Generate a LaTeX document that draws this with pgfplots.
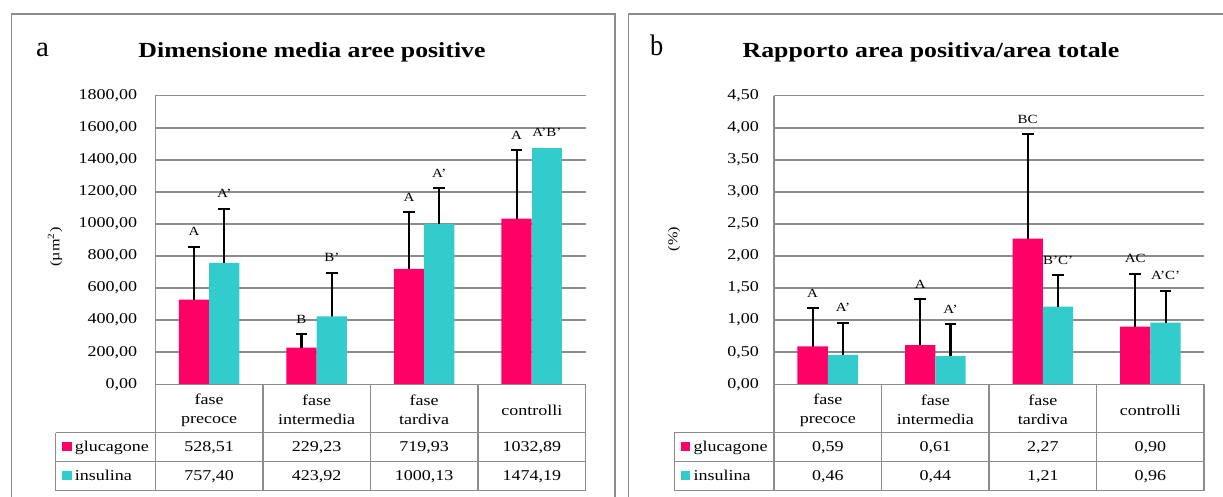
\documentclass[border=0pt]{standalone}
\usepackage{fontspec}
\setmainfont{Liberation Serif}[FakeStretch=1.2]
\usepackage{pgfplots}
\pgfplotsset{compat=1.18}
\definecolor{gluc}{HTML}{FF0066}
\definecolor{insu}{HTML}{33CCCC}
\definecolor{lgray}{HTML}{8C8C8C}
\newcommand\tfont{\fontsize{15}{18.7}\selectfont}
\newcommand\lfont{\fontsize{12.5}{14}\selectfont}
\pgfplotsset{
  panel/.style={
    scale only axis, width=430.2pt, height=288.6pt, anchor=south west,
    xmin=-0.5, xmax=3.5, ymin=0,
    xtick=\empty,
    ymajorgrids, grid style={lgray, line width=1.5pt},
    major tick length=0pt,
    axis line style={draw=none},
    yticklabel style={font=\tfont, inner sep=0pt, anchor=east,
      /pgf/number format/fixed, /pgf/number format/fixed zerofill,
      /pgf/number format/precision=2, /pgf/number format/use comma,
      /pgf/number format/1000 sep={}, /pgf/number format/assume math mode=true},
    clip=false,
    bar width=30.3pt,
  },
  % categories at 0,1,2,3; glucagone drawn at i-0.1409, insulina at i+0.1409
  glu/.style={ybar, bar shift=0pt, fill=gluc, draw=none},
  ins/.style={ybar, bar shift=0pt, fill=insu, draw=none},
  eb/.style={error bars/.cd, y dir=plus, y explicit,
     error bar style={draw=black, solid, line width=2.1pt},
     error mark options={rotate=90, draw=black, solid, line width=2pt, mark size=5.9pt}},
  % stems of the error bars (drawn first, hidden inside the bars) with the letters on top
  stem/.style={ycomb, black, line width=2.1pt, mark=none, nodes near coords, point meta=explicit symbolic,
     nodes near coords style={font=\lfont, text=black, anchor=south, yshift=6.5pt}},
  lab/.style={ybar, bar shift=0pt, draw=none, fill=none, nodes near coords, point meta=explicit symbolic,
     nodes near coords style={font=\lfont, text=black, yshift=6.5pt}},
}
% table: #1 x offset, #2-#5 glucagone, #6-#9 insulina
\newcommand\drawtable[9]{%
 \begin{scope}[xshift=#1]
  \draw[lgray, line width=1.5pt] (155.3pt,112.7pt) -- (155.3pt,401.3pt);
  \draw[lgray, line width=1.5pt] (155.3pt,112.7pt) -- (585.5pt,112.7pt);
  \draw[lgray, line width=1.5pt] (55.7pt,64.3pt) -- (585.5pt,64.3pt);
  \draw[lgray, line width=1.5pt] (55.7pt,35.3pt) -- (585.5pt,35.3pt);
  \draw[lgray, line width=1.5pt] (55.7pt,6.3pt) -- (585.5pt,6.3pt);
  \draw[lgray, line width=1.5pt] (55.7pt,6.3pt) -- (55.7pt,64.3pt);
  \foreach \xx in {155.3,262.9,370.4,478,585.5}{
    \draw[lgray, line width=1.5pt] (\xx pt,6.3pt) -- (\xx pt,112.7pt);}
  \node[font=\tfont, align=center] at (209.1pt,87pt) {fase\\precoce};
  \node[font=\tfont, align=center] at (316.65pt,87pt) {fase\\intermedia};
  \node[font=\tfont, align=center] at (424.2pt,87pt) {fase\\tardiva};
  \node[font=\tfont, align=center] at (531.75pt,87pt) {controlli};
  \fill[gluc] (62pt,45.5pt) rectangle (71.7pt,55.2pt);
  \fill[insu] (62pt,16.6pt) rectangle (71.7pt,26.3pt);
  \node[font=\tfont, anchor=base west, inner sep=0pt] at (74.7pt,45pt) {glucagone};
  \node[font=\tfont, anchor=base west, inner sep=0pt] at (74.7pt,16pt) {insulina};
  \node[font=\tfont, anchor=base, inner sep=0pt] at (209.1pt,45pt) {#2};
  \node[font=\tfont, anchor=base, inner sep=0pt] at (316.65pt,45pt) {#3};
  \node[font=\tfont, anchor=base, inner sep=0pt] at (424.2pt,45pt) {#4};
  \node[font=\tfont, anchor=base, inner sep=0pt] at (531.75pt,45pt) {#5};
  \node[font=\tfont, anchor=base, inner sep=0pt] at (209.1pt,16pt) {#6};
  \node[font=\tfont, anchor=base, inner sep=0pt] at (316.65pt,16pt) {#7};
  \node[font=\tfont, anchor=base, inner sep=0pt] at (424.2pt,16pt) {#8};
  \node[font=\tfont, anchor=base, inner sep=0pt] at (531.75pt,16pt) {#9};
 \end{scope}}
\begin{document}
\begin{tikzpicture}
\clip (0,0) rectangle (1223pt,497pt);
\fill[white] (0,0) rectangle (1223pt,497pt);
% panel frames
\draw[lgray, line width=1.3pt] (11.7pt,-10pt) rectangle (615pt,483pt);
\draw[lgray, line width=1.3pt] (628.3pt,-10pt) rectangle (1240pt,483pt);
% titles
\node[anchor=base west, inner sep=0pt] at (36pt,440.3pt) {\scalebox{1.1}[1.3]{\fontsize{22}{22}\selectfont a}};
\node[anchor=base, inner sep=0pt, font=\bfseries\fontsize{21.5}{24}\selectfont] at (312pt,439.7pt) {Dimensione media aree positive};
\node[anchor=base west, inner sep=0pt] at (650pt,441pt) {\scalebox{1.0}[1.35]{\fontsize{22}{22}\selectfont b}};
\node[anchor=base, inner sep=0pt, font=\bfseries\fontsize{21.5}{24}\selectfont] at (931pt,439.7pt) {Rapporto area positiva/area totale};
% y labels
\node[rotate=90, font=\fontsize{13.5}{15}\selectfont] at (55pt,250pt) {(µm\textsuperscript{2})};
\node[rotate=90, font=\fontsize{13.5}{15}\selectfont] at (674pt,258pt) {(\%)};

% ---------- panel a ----------
\begin{axis}[panel, at={(155.3pt,112.7pt)}, ymax=1800,
  ytick={0,200,...,1800}, yticklabel style={xshift=-18pt}]
\addplot[stem] coordinates {(-0.1409,858)[A] (0.8591,314)[B] (1.8591,1073)[A] (2.8591,1460)[A]
  (0.1409,1095)[A'] (1.1409,696)[B'] (2.1409,1222)[A']};
\addplot[glu, eb] coordinates {(-0.1409,528.51) += (0,329.5) (0.8591,229.23) += (0,84.8) (1.8591,719.93) += (0,353.0) (2.8591,1032.89) += (0,427.0)};
\addplot[ins, eb] coordinates {(0.1409,757.40) += (0,337.6) (1.1409,423.92) += (0,272.0) (2.1409,1000.13) += (0,222.0)};
\addplot[ins] coordinates {(3.1409,1474.19)};
\addplot[lab] coordinates {(3.1409,1485)[A'B']};
\end{axis}
\drawtable{0pt}{528,51}{229,23}{719,93}{1032,89}{757,40}{423,92}{1000,13}{1474,19}

% ---------- panel b ----------
\begin{axis}[panel, at={(774pt,112.7pt)}, ymax=4.5,
  ytick={0,0.5,1,1.5,2,2.5,3,3.5,4,4.5}, yticklabel style={xshift=-15pt}]
\addplot[stem] coordinates {(-0.1409,1.19)[A] (0.8591,1.33)[A] (1.8591,3.90)[BC] (2.8591,1.72)[AC]
  (0.1409,0.96)[A'] (1.1409,0.94)[A'] (2.1409,1.70)[B'C'] (3.1409,1.46)[A'C']};
\addplot[glu, eb] coordinates {(-0.1409,0.59) += (0,0.60) (0.8591,0.61) += (0,0.72) (1.8591,2.27) += (0,1.63) (2.8591,0.90) += (0,0.82)};
\addplot[ins, eb] coordinates {(0.1409,0.46) += (0,0.50) (1.1409,0.44) += (0,0.50) (2.1409,1.21) += (0,0.49) (3.1409,0.96) += (0,0.50)};
\end{axis}
\drawtable{618.7pt}{0,59}{0,61}{2,27}{0,90}{0,46}{0,44}{1,21}{0,96}
\end{tikzpicture}
\end{document}
